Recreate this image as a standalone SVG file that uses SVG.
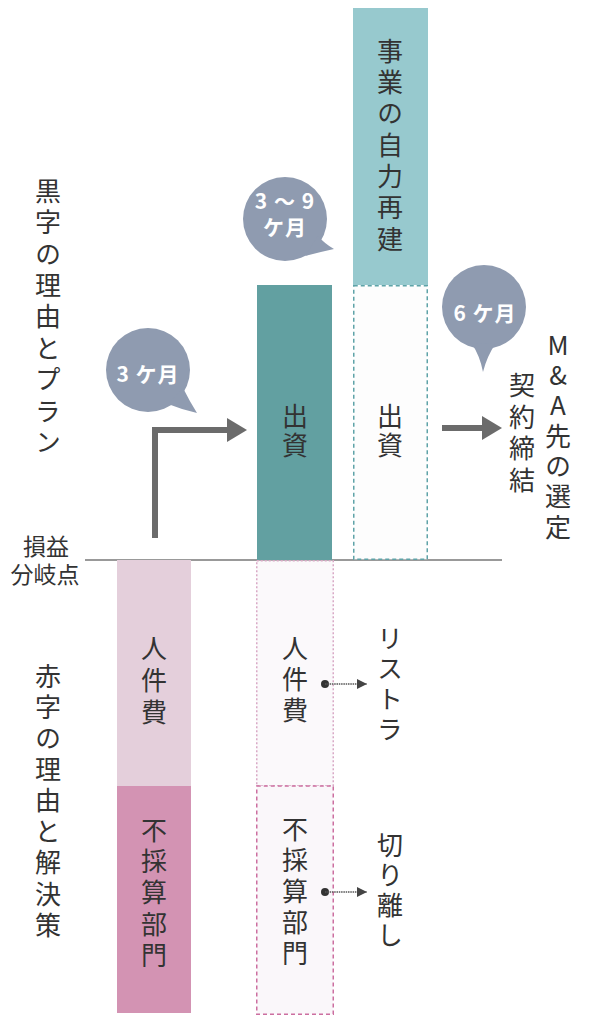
<svg xmlns="http://www.w3.org/2000/svg" width="589" height="1024" viewBox="0 0 589 1024">
<style>
.t{font-family:"Noto Sans CJK JP","Noto Sans",sans-serif;fill:#333;font-size:26px}
.v{writing-mode:vertical-rl;text-orientation:upright;text-anchor:start}
.h{text-anchor:middle;dominant-baseline:central;font-size:23px}
.b{font-family:"Noto Sans CJK JP","Noto Sans",sans-serif;fill:#fff;text-anchor:middle;dominant-baseline:central;font-size:21px;font-weight:bold;letter-spacing:1px}
.bub{fill:#8f9bb0}
.thick{stroke:#6b6b6b;stroke-width:6;fill:none}
.head{fill:#6b6b6b}
.thin{stroke:#555;stroke-width:1.3;stroke-dasharray:1.5 0.8;fill:none}
</style>
<defs>
<marker id="ah" viewBox="0 0 10 10" refX="10" refY="5" markerWidth="10" markerHeight="10" markerUnits="userSpaceOnUse" orient="auto"><path d="M0,0 L10,5 L0,10 Z" fill="#444"/></marker>
</defs>

<g id="labels-left">
<text class="t v" x="48" y="178" letter-spacing="5.4">黒字の理由とプラン</text>
<text class="t v" x="48" y="663" letter-spacing="5.1">赤字の理由と解決策</text>
<text class="t h" x="46" y="545">損益</text>
<text class="t h" x="45" y="573">分岐点</text>
</g>

<g id="baseline">
<line x1="85" y1="560" x2="502" y2="560" stroke="#777" stroke-width="1.5"/>
</g>

<g id="bar-jiriki">
<rect x="353" y="8" width="75" height="277" fill="#97c9ce"/>
<text class="t v" x="390" y="38" letter-spacing="5.3">事業の自力再建</text>
</g>

<g id="bar-shusshi-dashed">
<rect x="353.75" y="285.75" width="73.5" height="273.5" fill="#fdfdfd" stroke="#5fa3a8" stroke-width="1.5" stroke-dasharray="4 3"/>
<text class="t v" x="390" y="403" letter-spacing="3">出資</text>
</g>

<g id="bar-shusshi">
<rect x="257" y="285" width="75" height="275" fill="#62a0a1"/>
<text class="t v" x="295" y="403" letter-spacing="3">出資</text>
</g>

<g id="bar-jinkenhi">
<rect x="117" y="560" width="74" height="226" fill="#e4cfdb"/>
<text class="t v" x="154" y="635" letter-spacing="6">人件費</text>
</g>

<g id="bar-fusaisan">
<rect x="117" y="786" width="74" height="227" fill="#d393b3"/>
<text class="t v" x="154" y="817" letter-spacing="5.3">不採算部門</text>
</g>

<g id="bar-jinkenhi-dashed">
<rect x="256.75" y="560.75" width="76.5" height="225.25" fill="#fbf9fb" stroke="#d9a9c6" stroke-width="1.5" stroke-dasharray="2 2"/>
<text class="t v" x="295" y="635" letter-spacing="5">人件費</text>
</g>

<g id="bar-fusaisan-dashed">
<rect x="256.75" y="786" width="76.5" height="228.25" fill="#faf7fa" stroke="#cc6fa0" stroke-width="1.5" stroke-dasharray="4 3"/>
<text class="t v" x="295" y="816" letter-spacing="5">不採算部門</text>
</g>

<g id="label-restructure">
<text class="t v" x="390" y="625" letter-spacing="4.5">リストラ</text>
</g>

<g id="label-kirihanashi">
<text class="t v" x="390" y="832" letter-spacing="4">切り離し</text>
</g>

<g id="label-ma">
<text class="t v" x="558" y="332" letter-spacing="4.3">M&amp;A先の選定</text>
<text class="t v" x="522" y="372" letter-spacing="5.7">契約締結</text>
</g>

<g id="bubble-3m">
<circle class="bub" cx="148" cy="370" r="42"/>
<path class="bub" d="M183,388 Q190,402 197,413 Q183,410 168,404 Z"/>
<text class="b" x="148" y="373">3 ケ月</text>
</g>

<g id="bubble-3-9m">
<circle class="bub" cx="285" cy="219" r="42"/>
<path class="bub" d="M318,236 Q325,244 334,249 Q320,252 305,256 Z"/>
<text class="b" x="285" y="200">3 ～ 9</text>
<text class="b" x="285" y="226">ケ月</text>
</g>

<g id="bubble-6m">
<circle class="bub" cx="484" cy="307" r="42"/>
<path class="bub" d="M472,344 Q480,356 483,372 Q487,356 496,343 Z"/>
<text class="b" x="485" y="312">6 ケ月</text>
</g>

<g id="connectors">
<polyline class="thick" points="155,538 155,430 229,430" stroke-linejoin="miter"/>
<polygon class="head" points="227,418 247,430 227,442"/>
<line class="thick" x1="442" y1="428" x2="484" y2="428"/>
<polygon class="head" points="482,416 502,428 482,440"/>
<circle cx="325" cy="684" r="4" fill="#333"/>
<line class="thin" x1="325" y1="684" x2="367" y2="684" marker-end="url(#ah)"/>
<circle cx="325" cy="892" r="4" fill="#333"/>
<line class="thin" x1="325" y1="892" x2="367" y2="892" marker-end="url(#ah)"/>
</g>
</svg>
